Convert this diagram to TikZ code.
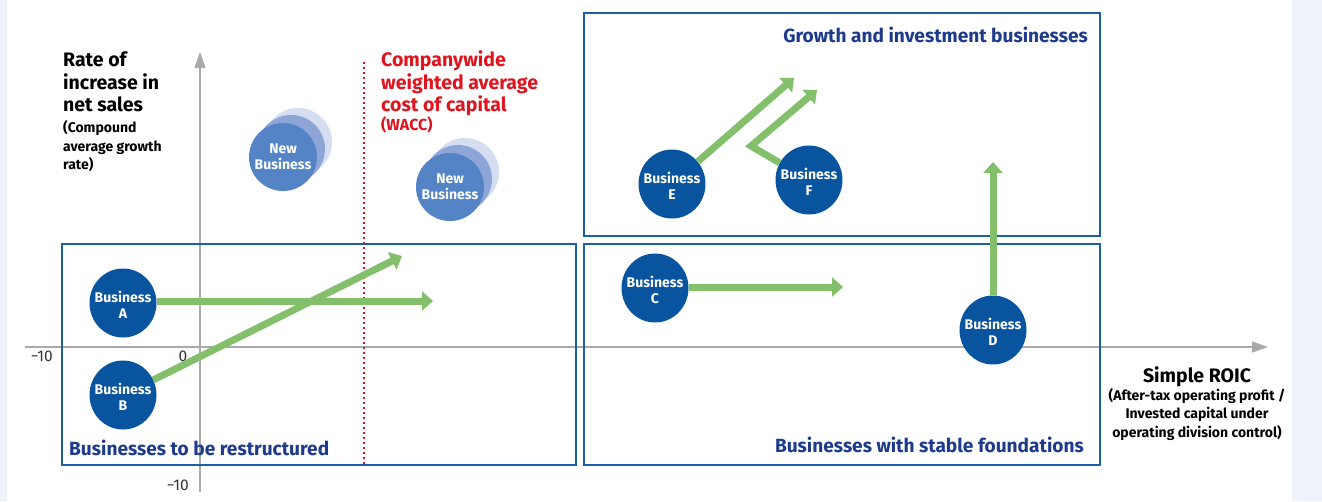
\documentclass[tikz,border=0pt]{standalone}
\usepackage{fontspec}
\setmainfont{Fira Sans}
\usetikzlibrary{arrows.meta,shapes.geometric}
\definecolor{bgl}{HTML}{EEF2FB}
\definecolor{bizblue}{HTML}{08549E}
\definecolor{nbfront}{HTML}{5484C6}
\definecolor{nbmid}{HTML}{8EA5D8}
\definecolor{nbback}{HTML}{D5DDF1}
\definecolor{grn}{HTML}{84C06B}
\definecolor{boxblue}{HTML}{1A5FA8}
\definecolor{navy}{HTML}{1D3A8C}
\definecolor{wred}{HTML}{E0141E}
\definecolor{axgray}{HTML}{A9A9A9}
\tikzset{
  axis/.style={draw=axgray, line width=1.5pt, -{Triangle[width=11pt,length=16pt]}},
  quad/.style={draw=boxblue, line width=2pt},
  biz/.style={ellipse, fill=bizblue, minimum width=67pt, minimum height=69pt, inner sep=0pt},
  biztext/.style={text=white, inner sep=0pt, align=center, font=\bfseries\fontsize{14}{16}\selectfont},
  nb/.style={circle, minimum size=68pt, inner sep=0pt},
  garrow/.style={draw=grn, line width=7pt, -{Triangle[width=19pt,length=11pt]}},
  quadlabel/.style={text=navy, inner sep=0pt, font=\bfseries\fontsize{19.1}{20}\selectfont},
  big/.style={inner sep=0pt, align=left, font=\bfseries\fontsize{19.5}{22.5}\selectfont},
  small/.style={inner sep=0pt, font=\bfseries\fontsize{14}{18.5}\selectfont},
  num/.style={inner sep=0pt, text=black!80, font=\fontsize{15.5}{16}\selectfont}
}
\begin{document}
\begin{tikzpicture}[x=1pt,y=-1pt]
\useasboundingbox (0,0) rectangle (1322,501);
\fill[white] (0,0) rectangle (1322,501);
\fill[bgl] (0,0) rectangle (7,501);
\fill[bgl] (1292,0) rectangle (1322,501);

% axes
\coordinate (yb) at (200,492);
\coordinate (yt) at (200,52);
\coordinate (xl) at (25,347);
\coordinate (xr) at (1268,347);
\draw[axis] (yb) -- (yt);
\draw[axis] (xl) -- (xr);

% WACC line
\coordinate (wt) at (364,62);
\coordinate (wb) at (364,465);
\draw[wred, line width=1.8pt, dash pattern=on 1.8pt off 3.2pt] (wt) -- (wb);

% quadrant boxes
\draw[quad] (62,244) rectangle (576,465);
\draw[quad] (584,13) rectangle (1100,236);
\draw[quad] (584,244) rectangle (1100,465);

% axis numbers
\node[num, anchor=base east] (nxl) at (53,361) {−10};
\node[num, anchor=base] (n0) at (183,361) {0};
\node[num, anchor=base east] (nyb) at (189,490) {−10};

% axis titles
\node[big, anchor=base west] (ytitle) at (63,111.5) {Rate of\\increase in\\net sales};
\node[small, anchor=base west, align=left] (ysub) at (63,169.5) {(Compound\\average growth\\rate)};
\node[big, anchor=base west, text=wred] (wacc) at (381,111.5) {Companywide\\weighted average\\cost of capital};
\node[small, anchor=base west, text=wred, font=\bfseries\fontsize{16}{18}\selectfont] (waccs) at (381,130) {(WACC)};
\node[big, anchor=base, align=center] (xtitle) at (1197,382) {Simple ROIC};
\node[small, anchor=base, align=center] (xsub) at (1197,437) {(After-tax operating profit /\\Invested capital under\\operating division control)};

% quadrant labels
\node[quadlabel, anchor=base west] (q1) at (69,455) {Businesses to be restructured};
\node[quadlabel, anchor=base east] (q2) at (1088,42) {Growth and investment businesses};
\node[quadlabel, anchor=base east] (q3) at (1084,452) {Businesses with stable foundations};

% new businesses
\node[nb, fill=nbback] (n1c) at (298,142) {};
\node[nb, fill=nbmid] (n1b) at (291,149) {};
\node[nb, fill=nbfront] (n1a) at (283,157) {};
\node[biztext] (n1t) at (n1a) {New\\Business};
\node[nb, fill=nbback] (n2c) at (465,172) {};
\node[nb, fill=nbmid] (n2b) at (458,179) {};
\node[nb, fill=nbfront] (n2a) at (450,187) {};
\node[biztext] (n2t) at (n2a) {New\\Business};

% businesses
\node[biz] (A) at (123,303) {};
\node[biz] (B) at (123,395) {};
\node[biz] (C) at (655,288) {};
\node[biz] (D) at (993,330) {};
\node[biz] (E) at (672,184) {};
\node[biz] (F) at (809,180) {};
\node[biztext] (At) at ([yshift=-2pt]A) {Business\\A};
\node[biztext] (Bt) at ([yshift=-2pt]B) {Business\\B};
\node[biztext] (Ct) at ([yshift=-2pt]C) {Business\\C};
\node[biztext] (Dt) at ([yshift=-2pt]D) {Business\\D};
\node[biztext] (Et) at ([yshift=-2pt]E) {Business\\E};
\node[biztext] (Ft) at ([yshift=-2pt]F) {Business\\F};

% arrow targets
\coordinate (tA) at (433,301);
\coordinate (tB) at (402,256);
\coordinate (tC) at (843,287);
\coordinate (tD) at (993,162);
\coordinate (tE) at (794,78);
\coordinate (bF) at (751,146);
\coordinate (tF) at (817,90);

\draw[garrow] (A.east |- tA) -- (tA);
\draw[garrow] (B) -- (tB);
\draw[garrow] (C.east |- tC) -- (tC);
\draw[garrow] (D.north) -- (tD);
\draw[garrow] (E) -- (tE);
\draw[garrow, line join=miter] (F) -- (bF) -- (tF);
\end{tikzpicture}
\end{document}
